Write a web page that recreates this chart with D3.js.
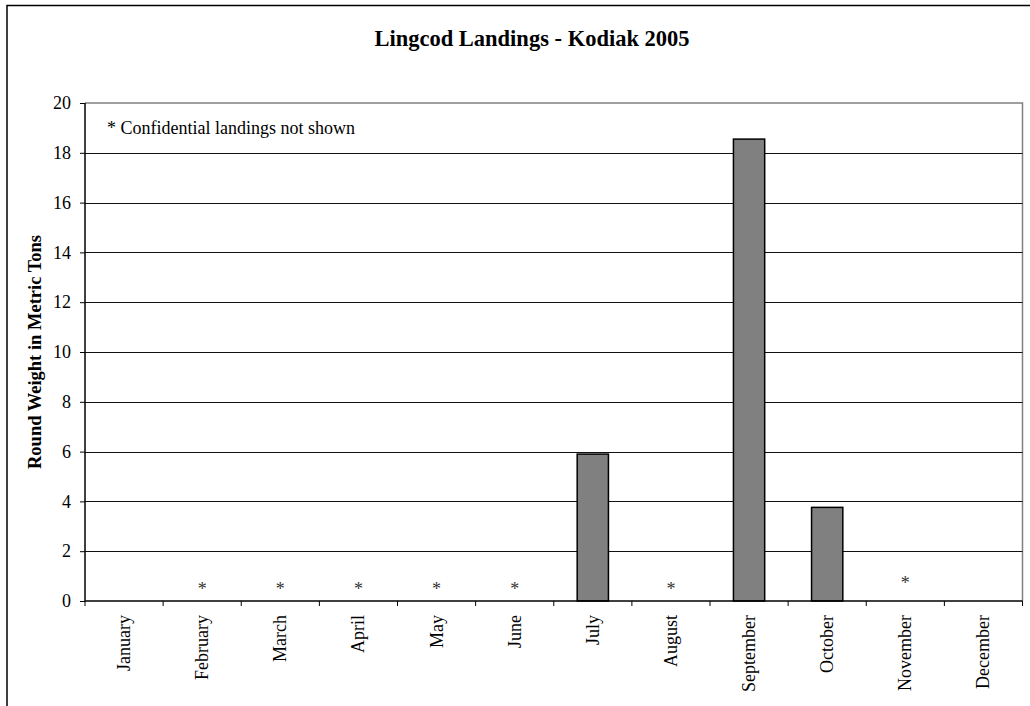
<!DOCTYPE html>
<html><head><meta charset="utf-8">
<script src="https://cdn.jsdelivr.net/npm/d3@7"></script>
<style>body{margin:0;background:#fff;} svg{display:block;font-family:"Liberation Serif","Times New Roman",serif;}</style>
</head><body>
<svg id="c" width="1030" height="706"></svg>
<script>
const months = ["January","February","March","April","May","June","July","August","September","October","November","December"];
const values = [0,0,0,0,0,0,5.9,0,18.55,3.76,0,0];
const labels = ["","*","*","*","*","*","","*","","","*",""];
const labelAt = [0,0,0,0,0,0,0,0,0,0,0.25,0];
const yTicks = [0,2,4,6,8,10,12,14,16,18,20];
const title = "Lingcod Landings - Kodiak 2005";
const yTitle = "Round Weight in Metric Tons";
const note = "* Confidential landings not shown";

const svg = d3.select("#c");
const L = 85, R = 1022.5, T = 103, B = 601;
const x = d3.scaleBand().domain(months).range([L, R]).paddingInner(0.6).paddingOuter(0.3);
const xb = d3.scaleBand().domain(months).range([L, R]);
const y = d3.scaleLinear().domain([0, 20]).range([B, T]);

// chart border (cropped)
svg.append("path").attr("d", "M7,706V5.5H1030").attr("fill","none").attr("stroke","#000").attr("stroke-width",1.5);

// plot border
svg.append("path").attr("d", `M${L},${T}H${R}V${B}`).attr("fill","none").attr("stroke","#808080").attr("stroke-width",1.5);

// gridlines
svg.append("g").selectAll("line").data(yTicks.filter(d=>d>0&&d<20)).join("line")
  .attr("x1", L).attr("x2", R).attr("y1", d=>Math.round(y(d))+0.5).attr("y2", d=>Math.round(y(d))+0.5)
  .attr("stroke","#111").attr("stroke-width",1);

// bars
svg.append("g").selectAll("rect").data(months).join("rect")
  .filter((d,i)=>values[i]>0)
  .attr("x", d=>x(d)).attr("width", x.bandwidth())
  .attr("y", d=>y(values[months.indexOf(d)])).attr("height", d=>B - y(values[months.indexOf(d)]))
  .attr("fill","#808080").attr("stroke","#000").attr("stroke-width",1.5);

// y axis
const ya = svg.append("g").attr("transform",`translate(${L},0)`)
  .call(d3.axisLeft(y).tickValues(yTicks).tickSize(5).tickPadding(9).tickFormat(d3.format("d")));
ya.select(".domain").attr("stroke","#000").attr("stroke-width",1.5).attr("d",`M0,${T}V${B}`);
ya.selectAll(".tick line").attr("stroke","#000");
ya.selectAll("text").attr("font-family","Liberation Serif").attr("font-size",18).attr("fill","#000");

// x axis (ticks at category boundaries)
const xa = svg.append("g").attr("transform",`translate(0,${B})`);
xa.append("line").attr("x1",L).attr("x2",R).attr("stroke","#000").attr("stroke-width",1.5);
xa.selectAll("line.t").data(months.concat(["end"])).join("line").attr("class","t")
  .attr("x1",(d,i)=> i<12 ? xb(d) : R).attr("x2",(d,i)=> i<12 ? xb(d) : R)
  .attr("y1",0).attr("y2",5).attr("stroke","#000").attr("stroke-width",1);
xa.selectAll("text").data(months).join("text")
  .attr("transform", d=>`translate(${xb(d)+xb.bandwidth()/2},14) rotate(-90)`)
  .attr("text-anchor","end").attr("dy","0.33em")
  .attr("font-size",18).attr("fill","#000").text(d=>d);

// data labels
svg.append("g").selectAll("text").data(months).join("text")
  .filter((d,i)=>labels[i]!=="")
  .attr("x", d=>xb(d)+xb.bandwidth()/2).attr("y", d=>y(labelAt[months.indexOf(d)]) - 6)
  .attr("text-anchor","middle").attr("font-size",18).attr("fill","#333")
  .text(d=>labels[months.indexOf(d)]);

// note
svg.append("text").attr("x",107).attr("y",134).attr("font-size",18).attr("fill","#000").text(note);

// title
svg.append("text").attr("x",532).attr("y",46).attr("text-anchor","middle")
  .attr("font-size",22.5).attr("font-weight","bold").attr("fill","#000").text(title);

// y title
svg.append("text").attr("transform",`translate(41,${(T+B)/2}) rotate(-90)`).attr("text-anchor","middle")
  .attr("font-size",18.5).attr("font-weight","bold").attr("fill","#000").text(yTitle);
</script>
</body></html>
